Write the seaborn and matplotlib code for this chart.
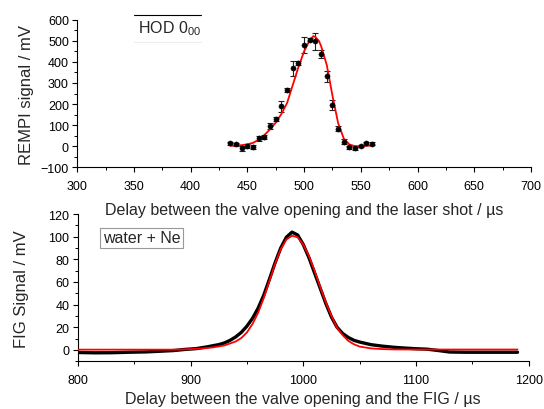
import matplotlib
matplotlib.use("Agg")
import matplotlib.pyplot as plt
from matplotlib.lines import Line2D
from matplotlib.ticker import MultipleLocator
import seaborn as sns
import pandas as pd

# ---- top panel: REMPI data ----
rempi_delay = [435, 440, 445, 450, 455, 460, 465, 470, 475, 480, 485, 490, 495,
               500, 505, 510, 515, 520, 525, 530, 535, 540, 545, 550, 555, 560]
rempi_signal = [13, 9, -10, 1, -2, 37, 43, 97, 129, 189, 268, 369, 396,
                482, 505, 497, 437, 331, 195, 84, 22, -5, -10, 1, 14, 12]
rempi_err = [8, 6, 12, 8, 10, 10, 8, 14, 10, 25, 10, 34, 10,
             38, 8, 40, 18, 28, 22, 14, 10, 8, 8, 6, 6, 6]
rempi_fit_x = [435, 440, 445, 450, 455, 460, 465, 470, 475, 480, 485, 490, 495,
               500, 505, 508, 510, 513, 515, 520, 525, 530, 535, 540, 545, 550, 555, 560]
rempi_fit_y = [2, 3, 5, 9, 16, 31, 53, 80, 112, 153, 205, 290, 375,
               450, 503, 522, 518, 500, 475, 385, 240, 110, 36, 8, 0, 0, 2, 3]

# ---- bottom panel: FIG data ----
fig_delay = [800, 815, 830, 845, 860, 875, 885, 895, 905, 915, 920, 925, 930, 935,
             940, 945, 950, 955, 960, 965, 970, 975, 980, 985, 990, 995, 1000,
             1005, 1010, 1015, 1020, 1025, 1030, 1035, 1040, 1045, 1050, 1060,
             1070, 1080, 1090, 1100, 1110, 1120, 1130, 1145, 1160, 1175, 1190]
fig_signal = [-2.2, -2.5, -2.4, -2.0, -1.7, -1.0, -0.5, 0.5, 1.2, 2.8, 3.8, 4.7, 6.2, 8.5,
              11.5, 15.5, 21, 28, 37, 48.5, 62.5, 77, 90, 99.5, 104, 101.5, 93,
              81.5, 68, 54.5, 41, 29, 20, 14.5, 11, 8.5, 7, 4.7,
              3.4, 2.4, 1.7, 1.1, 0.7, -0.5, -1.8, -2.0, -2.0, -2.0, -2.0]
fig_fit_x = [800, 850, 890, 900, 910, 920, 930, 940, 945, 950, 955, 960, 965, 970,
             975, 980, 985, 990, 995, 1000, 1005, 1010, 1015, 1020, 1025, 1030,
             1035, 1040, 1045, 1050, 1060, 1070, 1080, 1100, 1150, 1190]
fig_fit_y = [0.3, 0.3, 0.3, 0.8, 1.3, 2.3, 4.0, 7.5, 10.5, 15.5, 23, 33, 46, 61,
             76, 89, 97.5, 100.8, 99.5, 93, 83, 70, 55.5, 42, 30, 19.5,
             13, 8, 5, 3, 1.4, 0.8, 0.5, 0.4, 0.4, 0.4]

top_df = pd.DataFrame({"x": rempi_delay, "y": rempi_signal, "e": rempi_err})
top_fit = pd.DataFrame({"x": rempi_fit_x, "y": rempi_fit_y})
bot_df = pd.DataFrame({"x": fig_delay, "y": fig_signal})
bot_fit = pd.DataFrame({"x": fig_fit_x, "y": fig_fit_y})

sns.set_theme(style="ticks")
plt.rcParams["font.family"] = ["Liberation Sans", "DejaVu Sans"]
plt.rcParams["mathtext.default"] = "regular"

fig = plt.figure(figsize=(5.44, 4.10), dpi=100)
ax1 = fig.add_axes([0.142, 0.5895, 0.834, 0.360])
ax2 = fig.add_axes([0.143, 0.1163, 0.829, 0.3593])
ax1.patch.set_visible(False)
ax2.patch.set_visible(False)
ax1.set_zorder(2)

def style_axis(ax):
    for s in ["top", "right"]:
        ax.spines[s].set_visible(False)
    for s in ["left", "bottom"]:
        ax.spines[s].set_linewidth(0.8)
        ax.spines[s].set_color("black")
    ax.tick_params(which="major", direction="out", length=3.5, width=0.8,
                   labelsize=9, colors="black")
    ax.tick_params(which="minor", direction="out", length=2, width=0.7, colors="black")
    ax.tick_params(axis="x", which="major", pad=5.5)
    ax.tick_params(axis="y", which="major", pad=2.5)

# top panel
ax1.errorbar(top_df["x"], top_df["y"], yerr=top_df["e"], fmt="none",
             ecolor="#222222", elinewidth=0.8, capsize=2.5, capthick=0.8, zorder=2)
sns.lineplot(data=top_fit, x="x", y="y", ax=ax1, color="#ff0000", lw=1.3,
             sort=False, estimator=None, zorder=3)
sns.scatterplot(data=top_df, x="x", y="y", ax=ax1, color="black", s=14,
                edgecolor="black", linewidth=0.3, zorder=4)
ax1.set_xlim(300, 700)
ax1.set_ylim(-100, 600)
ax1.xaxis.set_major_locator(MultipleLocator(50))
ax1.xaxis.set_minor_locator(MultipleLocator(25))
ax1.yaxis.set_major_locator(MultipleLocator(100))
ax1.yaxis.set_minor_locator(MultipleLocator(50))
style_axis(ax1)
ax1.set_xlabel("Delay between the valve opening and the laser shot / µs",
               fontsize=11.5, labelpad=7)
ax1.set_ylabel("REMPI signal / mV", fontsize=12, labelpad=5)
ax1.text(0.1335, 0.915, "HOD 0$_{00}$", transform=ax1.transAxes,
         fontsize=11.5, va="baseline", ha="left")
ax1.add_line(Line2D([0.125, 0.272], [1.034, 1.034], transform=ax1.transAxes,
                    color="black", lw=0.8, clip_on=False))
ax1.add_line(Line2D([0.125, 0.272], [0.85, 0.85], transform=ax1.transAxes,
                    color="#eeeeee", lw=0.8, clip_on=False))

# bottom panel
sns.lineplot(data=bot_df, x="x", y="y", ax=ax2, color="black", lw=2.4,
             sort=False, estimator=None, zorder=2)
sns.lineplot(data=bot_fit, x="x", y="y", ax=ax2, color="#ff0000", lw=1.3,
             sort=False, estimator=None, zorder=3)
ax2.set_xlim(800, 1200)
ax2.set_ylim(-10, 120)
ax2.xaxis.set_major_locator(MultipleLocator(100))
ax2.xaxis.set_minor_locator(MultipleLocator(50))
ax2.yaxis.set_major_locator(MultipleLocator(20))
ax2.yaxis.set_minor_locator(MultipleLocator(10))
style_axis(ax2)
ax2.set_xlabel("Delay between the valve opening and the FIG / µs",
               fontsize=11.5, labelpad=4)
ax2.set_ylabel("FIG Signal / mV", fontsize=12, labelpad=14)
ax2.text(0.055, 0.808, "water + Ne", transform=ax2.transAxes, fontsize=11.5,
         va="baseline", ha="left",
         bbox=dict(boxstyle="square,pad=0.15", facecolor="white",
                   edgecolor="#999999", linewidth=0.8))

fig.savefig("out.png", dpi=100)
